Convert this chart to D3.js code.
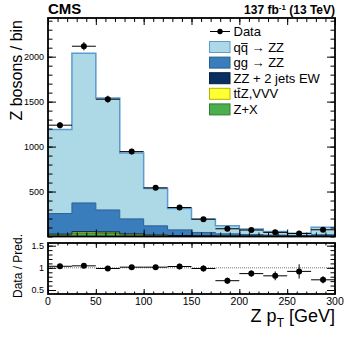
<!DOCTYPE html>
<html>
<head>
<meta charset="utf-8">
<script src="https://cdn.jsdelivr.net/npm/d3@7"></script>
<style>
  body { margin: 0; background: #fff; }
  svg { display: block; font-family: "Liberation Sans", Arial, sans-serif; }
</style>
</head>
<body>
<div id="chart"></div>
<script>
    // bins of Z pT (GeV)
    var binEdges = [0, 25, 50, 75, 100, 125, 150, 175, 200, 225, 250, 275, 300];

    // observed data + stat errors
    var dataCounts = [1238, 2116, 1527, 944, 541, 322, 193, 86, 72, 46, 33, 75];
    var dataErr    = [35, 46, 39, 31, 23, 18, 14, 9, 8.5, 7, 6, 9];

    // stacked predictions (bottom -> top: Z+X, ttZ/VVV, EW, gg, qq)
    var zPlusX = [18, 38, 35, 15, 8, 5, 3, 2, 1, 1, 1, 1];
    var ttZVVV = [4, 10, 10, 8, 5, 3, 2, 1, 1, 1, 1, 1];
    var ewZZ   = [4, 6, 6, 5, 4, 3, 3, 2, 2, 2, 1, 3];
    var ggZZ   = [229, 319, 244, 168, 102, 63, 37, 25, 18, 11, 7, 15];
    var qqZZ   = [935, 1665, 1245, 732, 414, 237, 147, 89, 62, 42, 27, 83];

    // data / prediction
    var ratio    = [1.035, 1.045, 0.985, 1.015, 1.015, 1.03, 0.985, 0.71, 0.87, 0.82, 0.92, 0.73];
    var ratioErr = [0.03, 0.025, 0.03, 0.035, 0.045, 0.06, 0.07, 0.07, 0.07, 0.1, 0.16, 0.08];

    var xTicks = [0, 50, 100, 150, 200, 250, 300];
    var yTicks = [500, 1000, 1500, 2000];
    var ratioTicks = [0.5, 1, 1.5];

    var layers = [
      {name: 'Z+X', values: zPlusX, fill: '#4cae4c', stroke: '#2e7d32'},
      {name: 'ttZ,VVV', values: ttZVVV, fill: '#ffff33', stroke: '#b5b500'},
      {name: 'ZZ + 2 jets EW', values: ewZZ, fill: '#0b2f5e', stroke: '#06203f'},
      {name: 'gg -> ZZ', values: ggZZ, fill: '#3a7dbd', stroke: '#285f94'},
      {name: 'qq -> ZZ', values: qqZZ, fill: '#add8e6', stroke: '#5b9bd0'}
    ];

    var width = 349, height = 338;

    var svg = d3.select('#chart').append('svg')
      .attr('width', width)
      .attr('height', height);

    var x = d3.scaleLinear().domain([0, 300]).range([48, 335]);
    var y = d3.scaleLinear().domain([0, 2430]).range([236.5, 18]);
    var yr = d3.scaleLinear().domain([0.41, 1.56]).range([294, 243]);

    // ---- stacked histogram ----
    var bins = d3.range(qqZZ.length);
    var rows = bins.map(function(i) {
      var r = {};
      layers.forEach(function(l) { r[l.name] = l.values[i]; });
      return r;
    });
    var stack = d3.stack().keys(layers.map(function(l) { return l.name; }));
    var series = stack(rows);

    function stepPoints(s) {
      var pts = [];
      s.forEach(function(d, i) {
        pts.push({x: binEdges[i], y0: d[0], y1: d[1]});
        pts.push({x: binEdges[i + 1], y0: d[0], y1: d[1]});
      });
      return pts;
    }

    var area = d3.area()
      .x(function(d) { return x(d.x); })
      .y0(function(d) { return y(d.y0); })
      .y1(function(d) { return y(d.y1); });

    var topLine = d3.line()
      .x(function(d) { return x(d.x); })
      .y(function(d) { return y(d.y1); });

    var main = svg.append('g');

    series.forEach(function(s, k) {
      var pts = stepPoints(s);
      main.append('path')
        .attr('d', area(pts))
        .attr('fill', layers[k].fill);
    });
    series.forEach(function(s, k) {
      var pts = stepPoints(s);
      main.append('path')
        .attr('d', topLine(pts))
        .attr('fill', 'none')
        .attr('stroke', layers[k].stroke)
        .attr('stroke-width', k == 4 ? 1.5 : 1);
    });

    // data points
    var pts = main.selectAll('.pt')
      .data(dataCounts)
      .enter().append('g');

    pts.append('line')
      .attr('x1', function(d, i) { return x(binEdges[i]); })
      .attr('x2', function(d, i) { return x(binEdges[i + 1]); })
      .attr('y1', function(d) { return y(d); })
      .attr('y2', function(d) { return y(d); })
      .attr('stroke', '#000');
    pts.append('line')
      .attr('x1', function(d, i) { return x((binEdges[i] + binEdges[i + 1]) / 2); })
      .attr('x2', function(d, i) { return x((binEdges[i] + binEdges[i + 1]) / 2); })
      .attr('y1', function(d, i) { return y(d - dataErr[i]); })
      .attr('y2', function(d, i) { return y(d + dataErr[i]); })
      .attr('stroke', '#000');
    pts.append('circle')
      .attr('cx', function(d, i) { return x((binEdges[i] + binEdges[i + 1]) / 2); })
      .attr('cy', function(d) { return y(d); })
      .attr('r', 3);

    // ---- axes helpers (ticks drawn inward like ROOT) ----
    function tickAxis(g, axisFn, scale, values, len) {
      var ax = axisFn(scale).tickValues(values).tickSize(-len).tickFormat('');
      g.call(ax);
      g.select('.domain').remove();
      g.selectAll('line').attr('stroke', '#000').attr('stroke-width', 1);
      return g;
    }

    var xMinor = d3.range(0, 301, 10);
    var yMinor = d3.range(0, 2431, 100);
    var rMinor = d3.range(0.5, 1.56, 0.1);

    // main panel ticks
    tickAxis(svg.append('g').attr('transform', 'translate(0,236.5)'), d3.axisBottom, x, xMinor, 4);
    tickAxis(svg.append('g').attr('transform', 'translate(0,236.5)'), d3.axisBottom, x, xTicks, 7);
    tickAxis(svg.append('g').attr('transform', 'translate(0,18)'), d3.axisTop, x, xMinor, 4);
    tickAxis(svg.append('g').attr('transform', 'translate(0,18)'), d3.axisTop, x, xTicks, 7);
    tickAxis(svg.append('g').attr('transform', 'translate(48,0)'), d3.axisLeft, y, yMinor, 4.5);
    tickAxis(svg.append('g').attr('transform', 'translate(48,0)'), d3.axisLeft, y, yTicks, 8);
    tickAxis(svg.append('g').attr('transform', 'translate(335,0)'), d3.axisRight, y, yMinor, 4.5);
    tickAxis(svg.append('g').attr('transform', 'translate(335,0)'), d3.axisRight, y, yTicks, 8);

    svg.append('g').selectAll('text')
      .data(yTicks).enter().append('text')
      .attr('x', 44)
      .attr('y', function(d) { return y(d) + 3; })
      .attr('text-anchor', 'end')
      .attr('font-size', 9)
      .text(function(d) { return d; });

    svg.append('rect')
      .attr('x', 48).attr('y', 18)
      .attr('width', 287).attr('height', 218.5)
      .attr('fill', 'none').attr('stroke', '#000').attr('stroke-width', 1.8);

    // ---- ratio panel ----
    var rp = svg.append('g');
    rp.append('line')
      .attr('x1', 48).attr('x2', 335)
      .attr('y1', yr(1)).attr('y2', yr(1))
      .attr('stroke', '#777').attr('stroke-dasharray', '1,1');

    var rpts = rp.selectAll('.rpt')
      .data(ratio)
      .enter().append('g');
    rpts.append('line')
      .attr('x1', function(d, i) { return x(binEdges[i]); })
      .attr('x2', function(d, i) { return x(binEdges[i + 1]); })
      .attr('y1', function(d) { return yr(d); })
      .attr('y2', function(d) { return yr(d); })
      .attr('stroke', '#000');
    rpts.append('line')
      .attr('x1', function(d, i) { return x((binEdges[i] + binEdges[i + 1]) / 2); })
      .attr('x2', function(d, i) { return x((binEdges[i] + binEdges[i + 1]) / 2); })
      .attr('y1', function(d, i) { return yr(d - ratioErr[i]); })
      .attr('y2', function(d, i) { return yr(d + ratioErr[i]); })
      .attr('stroke', '#000');
    rpts.append('circle')
      .attr('cx', function(d, i) { return x((binEdges[i] + binEdges[i + 1]) / 2); })
      .attr('cy', function(d) { return yr(d); })
      .attr('r', 3);

    tickAxis(svg.append('g').attr('transform', 'translate(0,294)'), d3.axisBottom, x, xMinor, 2.5);
    tickAxis(svg.append('g').attr('transform', 'translate(0,294)'), d3.axisBottom, x, xTicks, 5);
    tickAxis(svg.append('g').attr('transform', 'translate(0,243)'), d3.axisTop, x, xMinor, 2.5);
    tickAxis(svg.append('g').attr('transform', 'translate(0,243)'), d3.axisTop, x, xTicks, 5);
    tickAxis(svg.append('g').attr('transform', 'translate(48,0)'), d3.axisLeft, yr, rMinor, 4.5);
    tickAxis(svg.append('g').attr('transform', 'translate(48,0)'), d3.axisLeft, yr, ratioTicks, 8);
    tickAxis(svg.append('g').attr('transform', 'translate(335,0)'), d3.axisRight, yr, rMinor, 4.5);
    tickAxis(svg.append('g').attr('transform', 'translate(335,0)'), d3.axisRight, yr, ratioTicks, 8);

    svg.append('g').selectAll('text')
      .data(ratioTicks).enter().append('text')
      .attr('x', 44)
      .attr('y', function(d) { return yr(d) + 3; })
      .attr('text-anchor', 'end')
      .attr('font-size', 9)
      .text(function(d) { return d; });

    svg.append('g').selectAll('text')
      .data(xTicks).enter().append('text')
      .attr('x', function(d) { return x(d); })
      .attr('y', 304.5)
      .attr('text-anchor', 'middle')
      .attr('font-size', 10.5)
      .text(function(d) { return d; });

    svg.append('rect')
      .attr('x', 48).attr('y', 243)
      .attr('width', 287).attr('height', 51)
      .attr('fill', 'none').attr('stroke', '#000').attr('stroke-width', 1.8);

    // ---- labels ----
    svg.append('text')
      .attr('x', 48).attr('y', 14)
      .attr('font-size', 15).attr('font-weight', 'bold')
      .text('CMS');

    var lumi = svg.append('text')
      .attr('x', 335).attr('y', 14)
      .attr('text-anchor', 'end')
      .attr('font-size', 12).attr('font-weight', 'bold');
    lumi.append('tspan').text('137 fb');
    lumi.append('tspan').attr('font-size', 8).attr('dy', -4).text('-1');
    lumi.append('tspan').attr('dy', 4).text(' (13 TeV)');

    svg.append('text')
      .attr('transform', 'translate(21.5,20) rotate(-90)')
      .attr('text-anchor', 'end')
      .attr('font-size', 16)
      .text('Z bosons / bin');

    svg.append('text')
      .attr('transform', 'translate(22,266) rotate(-90)')
      .attr('text-anchor', 'middle')
      .attr('font-size', 12)
      .text('Data / Pred.');

    var xl = svg.append('text')
      .attr('x', 335).attr('y', 322)
      .attr('text-anchor', 'end')
      .attr('font-size', 18);
    xl.append('tspan').text('Z p');
    xl.append('tspan').attr('font-size', 12).attr('dy', 5).text('T');
    xl.append('tspan').attr('dy', -5).text(' [GeV]');

    // ---- legend ----
    var leg = svg.append('g').attr('font-size', 13);
    var legY = [31.5, 47, 62.6, 78.2, 93.8, 109.4];
    var legTexts = ['qq \u2192 ZZ', 'gg \u2192 ZZ', 'ZZ + 2 jets EW', 'ttZ,VVV', 'Z+X'];

    leg.append('line')
      .attr('x1', 210).attr('x2', 230)
      .attr('y1', legY[0]).attr('y2', legY[0])
      .attr('stroke', '#000');
    leg.append('circle').attr('cx', 220).attr('cy', legY[0]).attr('r', 2.7);
    leg.append('text').attr('x', 233.5).attr('y', legY[0] + 4.5).text('Data');

    var legOrder = [4, 3, 2, 1, 0];
    legOrder.forEach(function(k, j) {
      var cy = legY[j + 1];
      leg.append('rect')
        .attr('x', 209.5).attr('y', cy - 5.5)
        .attr('width', 20.5).attr('height', 11)
        .attr('fill', layers[k].fill)
        .attr('stroke', layers[k].stroke);
      var t = leg.append('text')
        .attr('x', 233.5).attr('y', cy + 4.5)
        .text(legTexts[j]);
      // anti-particle bar over the second letter (q-bar, t-bar)
      if (j == 0 || j == 3) {
        var node = t.node();
        var a = node.getSubStringLength(0, 1);
        var b = node.getSubStringLength(1, 1);
        var yb = j == 0 ? cy - 3.5 : cy - 5.5;
        leg.append('line')
          .attr('x1', 233.5 + a + 0.3).attr('x2', 233.5 + a + b - 0.3)
          .attr('y1', yb).attr('y2', yb)
          .attr('stroke', '#000').attr('stroke-width', 0.9);
      }
    });
</script>
</body>
</html>
